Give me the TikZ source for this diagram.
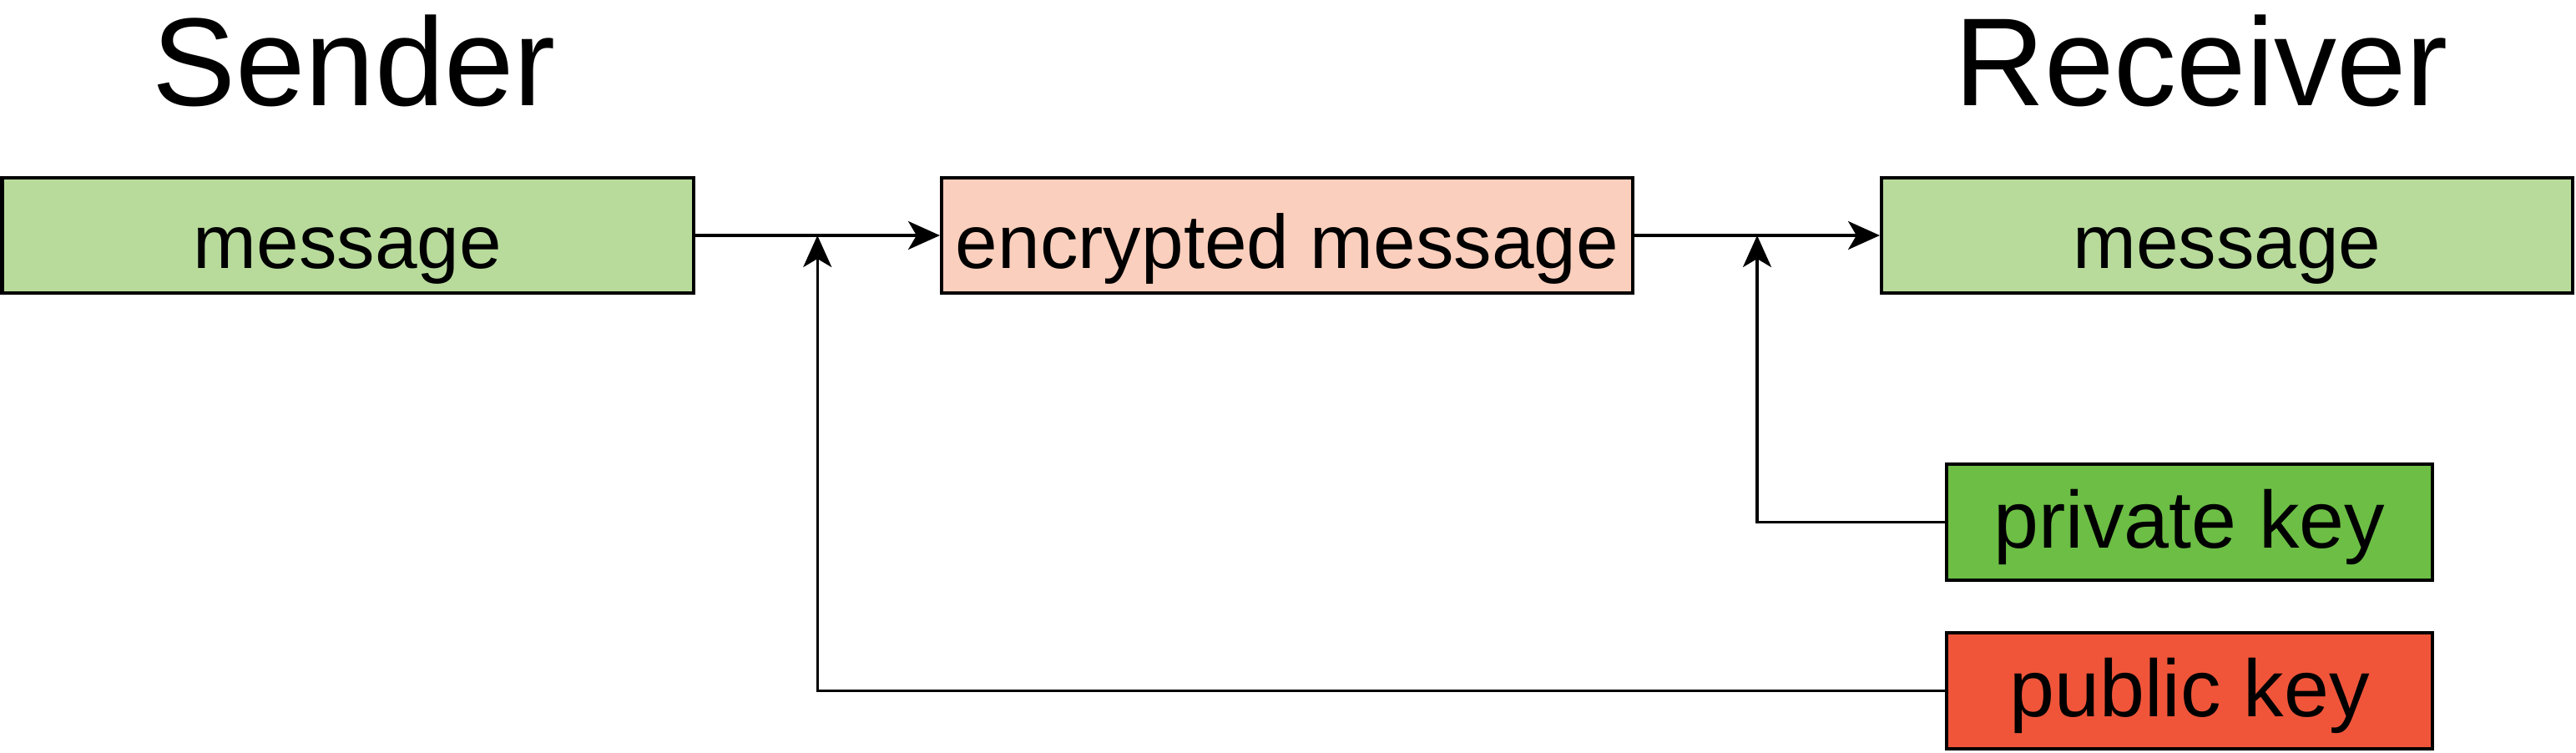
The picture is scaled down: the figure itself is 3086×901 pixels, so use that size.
\documentclass[tikz,border=0pt]{standalone}
\usepackage{fontspec}
\setmainfont{Liberation Sans}
\usetikzlibrary{arrows.meta,calc}

\definecolor{msggreen}{RGB}{184,219,156}
\definecolor{encpink}{RGB}{251,207,189}
\definecolor{privgreen}{RGB}{108,190,69}
\definecolor{pubred}{RGB}{240,85,58}

\tikzset{
    box/.style={draw, line width=1pt, inner sep=0pt},
    msgbox/.style={box, minimum width=207pt, minimum height=34.5pt,
        font=\fontsize{22.75}{27}\selectfont, text height=24pt, text depth=4pt},
    keybox/.style={box, minimum width=145.5pt, minimum height=34.75pt,
        font=\fontsize{24.25}{29}\selectfont, text height=20pt, text depth=4.75pt},
    title/.style={anchor=base, font=\fontsize{37.5}{45}\selectfont},
    conn/.style={line width=0.8pt, -{Stealth[length=9.5pt, width=8.5pt, inset=2.5pt]}}
}

\begin{document}
\begin{tikzpicture}[x=0.25pt, y=0.25pt]
        \useasboundingbox (0,0) rectangle (3086,901);

        % --- 見出し ---
        \node[title] (sender) at (424,774) {Sender};
        \node[title] (receiver) at (2637,774) {Receiver};

        % --- メッセージの箱 ---
        \node[msgbox, fill=msggreen] (msgA) at (416.5,619) {message};
        \node[msgbox, fill=encpink] (enc) at (1542,619) {encrypted message};
        \node[msgbox, fill=msggreen] (msgB) at (2668,619) {message};

        % --- 鍵の箱 ---
        \node[keybox, fill=privgreen] (priv) at (2623,275.5) {private key};
        \node[keybox, fill=pubred] (pub) at (2623,73.5) {public key};

        % --- 矢印 ---
        \draw[conn] (msgA) -- (enc);
        \draw[conn] (enc) -- (msgB);

        % 鍵から横線への合流点
        \coordinate (pubin) at ($(msgA.east)!0.5!(enc.west)$);
        \coordinate (privin) at ($(enc.east)!0.5!(msgB.west)$);
        \draw[conn] (pub.west) -| (pubin);
        \draw[conn] (priv.west) -| (privin);

    \end{tikzpicture}
\end{document}
